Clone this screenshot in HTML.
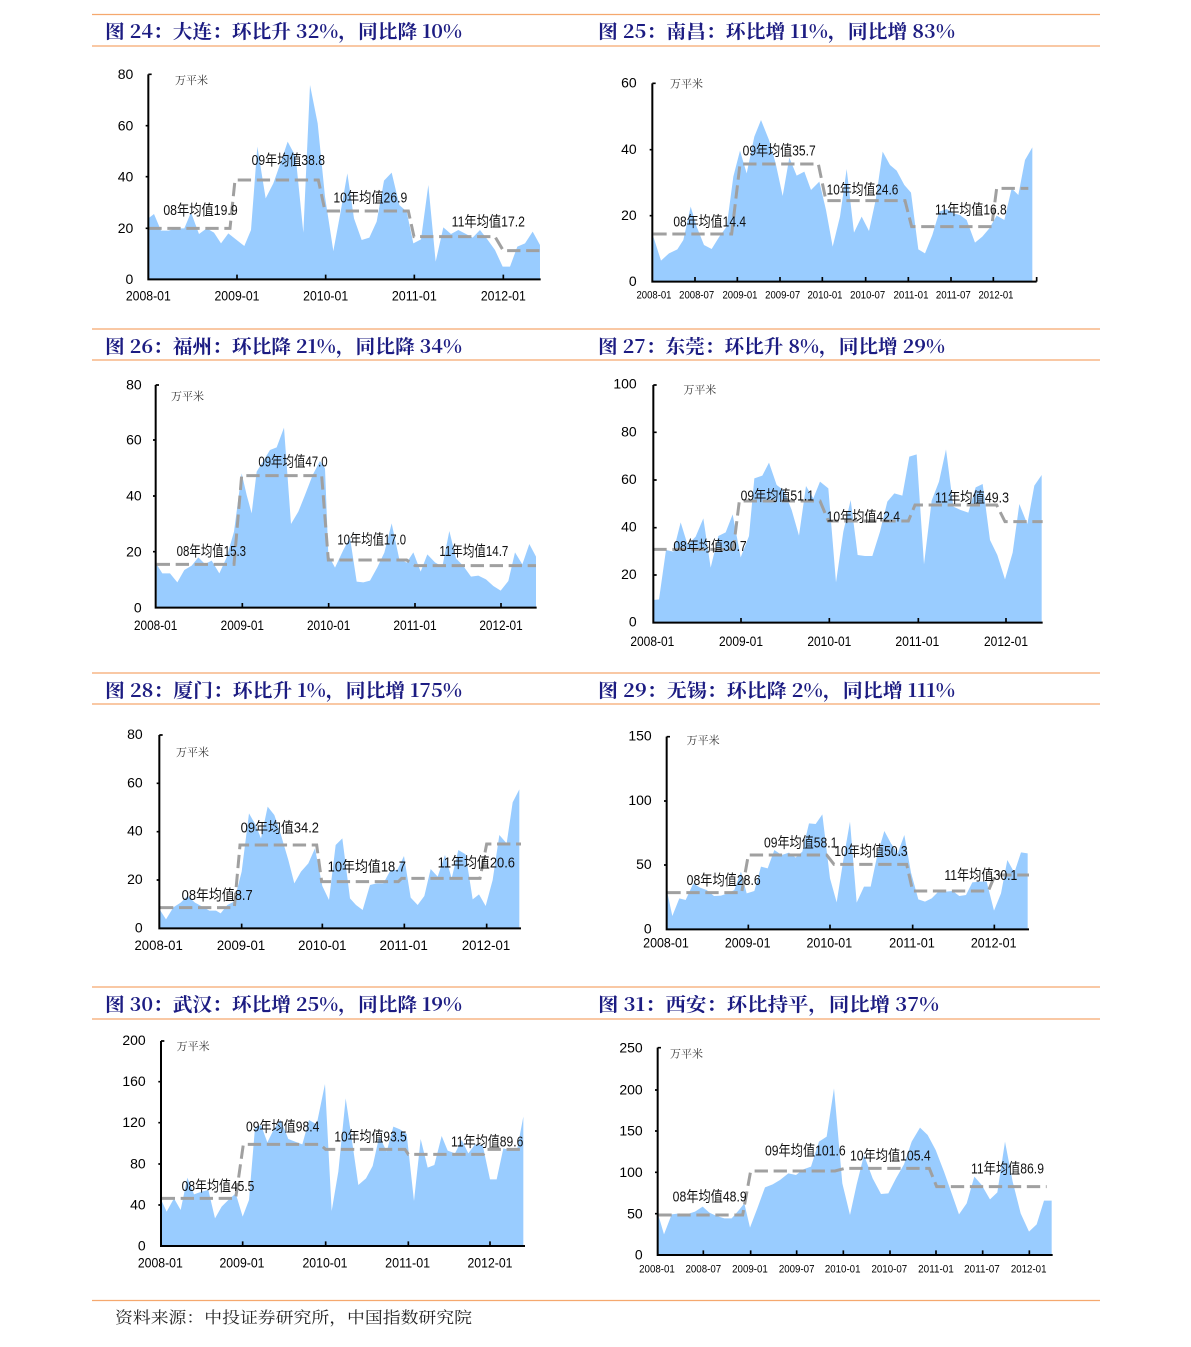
<!DOCTYPE html>
<html><head><meta charset="utf-8"><style>
html,body{margin:0;padding:0;background:#fff;}
svg{display:block}
.t{font-family:"Noto Serif CJK SC","Noto Sans CJK SC","Liberation Serif",serif;font-weight:bold;fill:#1c1c82;font-size:19px}
.l{font-family:"Liberation Sans","Noto Sans CJK SC",sans-serif;fill:#111;font-size:44px}
.k{font-family:"Liberation Sans",sans-serif;fill:#000;font-size:42px}
.ks{font-family:"Liberation Sans",sans-serif;fill:#000;font-size:34px}
.u{font-family:"Noto Serif CJK SC","Liberation Serif",serif;fill:#333;font-size:33px}
.a{fill:#99ccff;stroke:none}
.d{fill:none;stroke:#a0a0a0;stroke-width:9;stroke-dasharray:40 17}
.ax{fill:none;stroke:#000;stroke-width:6}
.tk{fill:none;stroke:#000;stroke-width:5}
</style></head><body>
<svg width="1191" height="1347" viewBox="0 0 1191 1347" xmlns="http://www.w3.org/2000/svg">
<rect width="1191" height="1347" fill="#fff"/>
<g stroke="#f5a86e" stroke-width="1.3">
<line x1="92" y1="14.5" x2="1100" y2="14.5"/><line x1="92" y1="46" x2="1100" y2="46"/>
<line x1="92" y1="329" x2="1100" y2="329"/><line x1="92" y1="360" x2="1100" y2="360"/>
<line x1="92" y1="673" x2="1100" y2="673"/><line x1="92" y1="704" x2="1100" y2="704"/>
<line x1="92" y1="987" x2="1100" y2="987"/><line x1="92" y1="1019" x2="1100" y2="1019"/>
<line x1="92" y1="1300.5" x2="1100" y2="1300.5"/>
</g>
<text class="t" x="105" y="38" textLength="357" lengthAdjust="spacingAndGlyphs">图 24：大连：环比升 32%，同比降 10%</text>
<text class="t" x="598" y="38" textLength="357" lengthAdjust="spacingAndGlyphs">图 25：南昌：环比增 11%，同比增 83%</text>
<text class="t" x="105" y="353" textLength="357" lengthAdjust="spacingAndGlyphs">图 26：福州：环比降 21%，同比降 34%</text>
<text class="t" x="598" y="353" textLength="347" lengthAdjust="spacingAndGlyphs">图 27：东莞：环比升 8%，同比增 29%</text>
<text class="t" x="105" y="697" textLength="357" lengthAdjust="spacingAndGlyphs">图 28：厦门：环比升 1%，同比增 175%</text>
<text class="t" x="598" y="697" textLength="357" lengthAdjust="spacingAndGlyphs">图 29：无锡：环比降 2%，同比增 111%</text>
<text class="t" x="105" y="1011" textLength="357" lengthAdjust="spacingAndGlyphs">图 30：武汉：环比增 25%，同比降 19%</text>
<text class="t" x="598" y="1011" textLength="341" lengthAdjust="spacingAndGlyphs">图 31：西安：环比持平，同比增 37%</text>
<text x="115" y="1323" textLength="357" lengthAdjust="spacingAndGlyphs" style="font-family:'Noto Serif CJK SC','Liberation Serif',serif;font-size:16px;fill:#222">资料来源：中投证券研究所，中国指数研究院</text>

<!-- Panel 1 Dalian -->
<g transform="translate(90,10) scale(0.333333)">
<polygon class="a" points="175,625 192,612 213,662 235,662 262,655 283,655 303,607 327,672 350,655 372,668 393,700 415,670 440,690 463,708 483,660 502,410 527,565 550,520 573,455 593,395 617,440 640,668 660,225 683,340 705,560 730,723 752,605 772,490 792,625 815,690 838,683 860,635 882,512 905,488 928,585 950,605 970,700 993,688 1015,525 1037,755 1060,652 1083,672 1105,660 1128,672 1148,683 1170,660 1192,688 1215,720 1238,770 1260,770 1282,710 1305,700 1328,665 1350,705 1350,808 175,808"/>
<polyline class="d" points="175,655 420,655 435,510 685,510 705,603 955,603 972,680 1215,680 1240,722 1350,722"/>
<path class="ax" d="M175,193 V808 H1352"/>
<path class="tk" d="M175,193h10M167,347h8M167,500h8M167,655h8M441,808v-14M707,808v-14M973,808v-14M1240,808v-14"/>
<g class="k" text-anchor="end"><text x="130" y="207">80</text><text x="130" y="361">60</text><text x="130" y="514">40</text><text x="130" y="669">20</text><text x="130" y="822">0</text></g>
<g class="k" text-anchor="middle"><text x="175" y="872" textLength="135" lengthAdjust="spacingAndGlyphs">2008-01</text><text x="441" y="872" textLength="135" lengthAdjust="spacingAndGlyphs">2009-01</text><text x="707" y="872" textLength="135" lengthAdjust="spacingAndGlyphs">2010-01</text><text x="973" y="872" textLength="135" lengthAdjust="spacingAndGlyphs">2011-01</text><text x="1240" y="872" textLength="135" lengthAdjust="spacingAndGlyphs">2012-01</text></g>
<text class="u" x="255" y="222">万平米</text>
<g class="l"><text x="220" y="615" textLength="223" lengthAdjust="spacingAndGlyphs">08年均值19.9</text><text x="485" y="465" textLength="220" lengthAdjust="spacingAndGlyphs">09年均值38.8</text><text x="730" y="577" textLength="222" lengthAdjust="spacingAndGlyphs">10年均值26.9</text><text x="1085" y="650" textLength="220" lengthAdjust="spacingAndGlyphs">11年均值17.2</text></g>
</g>

<!-- Panel 2 Nanchang -->
<g transform="translate(590,10) scale(0.333333)">
<polygon class="a" points="190,680 213,752 237,730 262,718 280,690 302,590 320,650 342,705 365,717 388,680 410,650 430,500 450,422 470,490 493,380 513,330 537,390 557,460 578,558 598,443 620,497 643,485 663,540 688,515 708,600 728,710 750,620 770,477 792,668 815,620 837,663 857,570 878,425 900,465 920,482 943,525 963,548 985,718 1005,730 1027,675 1048,605 1070,597 1090,610 1110,615 1130,630 1155,698 1177,680 1198,655 1220,617 1243,630 1265,535 1285,555 1305,450 1327,412 1327,815 190,815"/>
<polyline class="d" points="190,672 425,672 450,462 685,462 708,572 945,572 965,650 1205,650 1220,535 1315,535"/>
<path class="ax" d="M187,220 V815 H1340"/>
<path class="tk" d="M187,220h10M179,419h8M179,617h8M315,815v-14M442,815v-14M570,815v-14M697,815v-14M827,815v-14M955,815v-14M1083,815v-14M1210,815v-14M1340,815v-14"/>
<g class="k" text-anchor="end"><text x="140" y="233">60</text><text x="140" y="432">40</text><text x="140" y="630">20</text><text x="140" y="828">0</text></g>
<g class="ks" text-anchor="middle"><text x="192" y="865" textLength="105" lengthAdjust="spacingAndGlyphs">2008-01</text><text x="320" y="865" textLength="105" lengthAdjust="spacingAndGlyphs">2008-07</text><text x="450" y="865" textLength="105" lengthAdjust="spacingAndGlyphs">2009-01</text><text x="578" y="865" textLength="105" lengthAdjust="spacingAndGlyphs">2009-07</text><text x="705" y="865" textLength="105" lengthAdjust="spacingAndGlyphs">2010-01</text><text x="833" y="865" textLength="105" lengthAdjust="spacingAndGlyphs">2010-07</text><text x="963" y="865" textLength="105" lengthAdjust="spacingAndGlyphs">2011-01</text><text x="1090" y="865" textLength="105" lengthAdjust="spacingAndGlyphs">2011-07</text><text x="1218" y="865" textLength="105" lengthAdjust="spacingAndGlyphs">2012-01</text></g>
<text class="u" x="240" y="233">万平米</text>
<g class="l"><text x="250" y="650" textLength="218" lengthAdjust="spacingAndGlyphs">08年均值14.4</text><text x="458" y="437" textLength="219" lengthAdjust="spacingAndGlyphs">09年均值35.7</text><text x="710" y="553" textLength="215" lengthAdjust="spacingAndGlyphs">10年均值24.6</text><text x="1035" y="613" textLength="215" lengthAdjust="spacingAndGlyphs">11年均值16.8</text></g>
</g>

<!-- Panel 3 Fuzhou -->
<g transform="translate(90,325) scale(0.333333)">
<polygon class="a" points="200,718 217,745 240,745 262,772 283,735 305,722 325,697 345,717 365,707 388,745 410,697 432,620 455,445 470,510 485,565 500,440 520,408 540,375 560,367 582,308 603,597 625,560 645,510 668,450 690,408 705,430 715,690 735,728 760,675 780,638 800,770 820,772 840,767 862,727 883,683 905,595 928,703 950,713 970,682 992,740 1012,688 1035,712 1057,725 1078,618 1098,700 1120,723 1143,755 1165,752 1188,763 1210,783 1232,797 1255,768 1275,682 1297,718 1318,657 1338,695 1338,848 200,848"/>
<polyline class="d" points="200,718 432,718 455,452 695,452 715,705 950,705 975,722 1338,722"/>
<path class="ax" d="M197,180 V848 H1340"/>
<path class="tk" d="M197,180h10M189,345h8M189,513h8M189,680h8M457,848v-14M716,848v-14M975,848v-14M1233,848v-14"/>
<g class="k" text-anchor="end"><text x="155" y="194">80</text><text x="155" y="359">60</text><text x="155" y="527">40</text><text x="155" y="694">20</text><text x="155" y="862">0</text></g>
<g class="k" text-anchor="middle"><text x="197" y="915" textLength="130" lengthAdjust="spacingAndGlyphs">2008-01</text><text x="457" y="915" textLength="130" lengthAdjust="spacingAndGlyphs">2009-01</text><text x="716" y="915" textLength="130" lengthAdjust="spacingAndGlyphs">2010-01</text><text x="975" y="915" textLength="130" lengthAdjust="spacingAndGlyphs">2011-01</text><text x="1233" y="915" textLength="130" lengthAdjust="spacingAndGlyphs">2012-01</text></g>
<text class="u" x="243" y="225">万平米</text>
<g class="l"><text x="260" y="693" textLength="208" lengthAdjust="spacingAndGlyphs">08年均值15.3</text><text x="505" y="425" textLength="208" lengthAdjust="spacingAndGlyphs">09年均值47.0</text><text x="742" y="658" textLength="206" lengthAdjust="spacingAndGlyphs">10年均值17.0</text><text x="1048" y="693" textLength="207" lengthAdjust="spacingAndGlyphs">11年均值14.7</text></g>
</g>

<!-- Panel 4 Dongguan -->
<g transform="translate(590,325) scale(0.333333)">
<polygon class="a" points="190,825 207,823 228,675 250,680 272,592 293,660 317,635 340,580 362,728 385,633 407,622 428,568 452,697 477,633 493,460 517,452 537,413 560,480 582,497 605,555 627,632 648,483 670,520 690,470 715,490 738,772 760,620 782,525 803,690 825,693 847,693 870,620 892,530 913,505 937,512 958,395 980,388 1002,718 1025,527 1047,470 1068,373 1090,545 1112,555 1135,563 1157,487 1178,477 1200,645 1222,690 1245,763 1268,683 1288,537 1312,597 1333,482 1355,450 1355,893 190,893"/>
<polyline class="d" points="190,673 430,673 448,528 690,528 715,588 955,588 975,540 1220,540 1245,590 1358,590"/>
<path class="ax" d="M190,180 V893 H1358"/>
<path class="tk" d="M190,180h10M190,322h10M190,465h10M190,608h10M190,750h10M453,893v-14M718,893v-14M985,893v-14M1248,893v-14"/>
<g class="k" text-anchor="end"><text x="140" y="190">100</text><text x="140" y="334">80</text><text x="140" y="477">60</text><text x="140" y="620">40</text><text x="140" y="762">20</text><text x="140" y="905">0</text></g>
<g class="k" text-anchor="middle"><text x="187" y="963" textLength="132" lengthAdjust="spacingAndGlyphs">2008-01</text><text x="453" y="963" textLength="132" lengthAdjust="spacingAndGlyphs">2009-01</text><text x="718" y="963" textLength="132" lengthAdjust="spacingAndGlyphs">2010-01</text><text x="982" y="963" textLength="132" lengthAdjust="spacingAndGlyphs">2011-01</text><text x="1248" y="963" textLength="132" lengthAdjust="spacingAndGlyphs">2012-01</text></g>
<text class="u" x="280" y="205">万平米</text>
<g class="l"><text x="250" y="678" textLength="220" lengthAdjust="spacingAndGlyphs">08年均值30.7</text><text x="452" y="527" textLength="220" lengthAdjust="spacingAndGlyphs">09年均值51.1</text><text x="710" y="590" textLength="220" lengthAdjust="spacingAndGlyphs">10年均值42.4</text><text x="1035" y="533" textLength="222" lengthAdjust="spacingAndGlyphs">11年均值49.3</text></g>
</g>

<!-- Panel 5 Xiamen -->
<g transform="translate(90,670) scale(0.333333)">
<polygon class="a" points="210,720 228,748 250,712 272,698 293,678 315,698 337,710 358,722 378,722 392,730 412,705 432,695 455,605 477,430 497,465 513,505 533,410 553,435 573,495 595,570 613,640 633,605 655,580 675,535 697,648 717,690 737,525 757,505 780,685 798,705 818,720 840,645 860,640 880,640 902,600 922,600 942,558 962,683 983,705 1003,678 1022,597 1043,620 1065,555 1085,625 1105,540 1127,553 1148,688 1167,673 1187,708 1208,630 1228,495 1250,520 1268,397 1288,358 1288,775 210,775"/>
<polyline class="d" points="210,713 433,713 450,525 680,525 695,635 925,635 935,625 1170,625 1190,522 1293,522"/>
<path class="ax" d="M208,195 V775 H1293"/>
<path class="tk" d="M208,195h10M200,340h8M200,485h8M200,630h8M455,775v-14M697,775v-14M943,775v-14M1190,775v-14"/>
<g class="k" text-anchor="end"><text x="158" y="207">80</text><text x="158" y="352">60</text><text x="158" y="497">40</text><text x="158" y="642">20</text><text x="158" y="787">0</text></g>
<g class="k" text-anchor="middle"><text x="206" y="840" textLength="145" lengthAdjust="spacingAndGlyphs">2008-01</text><text x="453" y="840" textLength="145" lengthAdjust="spacingAndGlyphs">2009-01</text><text x="697" y="840" textLength="145" lengthAdjust="spacingAndGlyphs">2010-01</text><text x="941" y="840" textLength="145" lengthAdjust="spacingAndGlyphs">2011-01</text><text x="1188" y="840" textLength="145" lengthAdjust="spacingAndGlyphs">2012-01</text></g>
<text class="u" x="258" y="258">万平米</text>
<g class="l"><text x="275" y="690" textLength="213" lengthAdjust="spacingAndGlyphs">08年均值8.7</text><text x="452" y="488" textLength="235" lengthAdjust="spacingAndGlyphs">09年均值34.2</text><text x="713" y="605" textLength="235" lengthAdjust="spacingAndGlyphs">10年均值18.7</text><text x="1043" y="592" textLength="232" lengthAdjust="spacingAndGlyphs">11年均值20.6</text></g>
</g>

<!-- Panel 6 Wuxi -->
<g transform="translate(590,670) scale(0.333333)">
<polygon class="a" points="232,668 247,738 268,685 287,690 310,640 330,653 350,660 372,678 393,677 413,670 433,660 453,605 470,670 493,663 513,590 533,595 553,540 575,555 597,548 617,563 637,545 657,460 677,462 697,433 720,625 740,697 760,570 780,455 800,698 822,650 842,650 862,555 883,483 903,520 923,550 943,495 963,608 985,688 1005,695 1025,685 1047,663 1067,665 1088,663 1108,678 1128,675 1147,637 1168,635 1190,635 1212,722 1233,670 1252,570 1273,608 1293,547 1313,550 1313,778 232,778"/>
<polyline class="d" points="232,668 455,668 475,555 710,555 732,583 950,583 968,663 1195,663 1215,615 1317,615"/>
<path class="ax" d="M230,200 V778 H1317"/>
<path class="tk" d="M230,200h10M222,393h8M222,585h8M475,778v-14M720,778v-14M968,778v-14M1213,778v-14"/>
<g class="k" text-anchor="end"><text x="185" y="212">150</text><text x="185" y="405">100</text><text x="185" y="597">50</text><text x="185" y="790">0</text></g>
<g class="k" text-anchor="middle"><text x="228" y="833" textLength="137" lengthAdjust="spacingAndGlyphs">2008-01</text><text x="473" y="833" textLength="137" lengthAdjust="spacingAndGlyphs">2009-01</text><text x="718" y="833" textLength="137" lengthAdjust="spacingAndGlyphs">2010-01</text><text x="966" y="833" textLength="137" lengthAdjust="spacingAndGlyphs">2011-01</text><text x="1211" y="833" textLength="137" lengthAdjust="spacingAndGlyphs">2012-01</text></g>
<text class="u" x="290" y="222">万平米</text>
<g class="l"><text x="290" y="645" textLength="222" lengthAdjust="spacingAndGlyphs">08年均值28.6</text><text x="522" y="533" textLength="220" lengthAdjust="spacingAndGlyphs">09年均值58.1</text><text x="733" y="558" textLength="220" lengthAdjust="spacingAndGlyphs">10年均值50.3</text><text x="1063" y="630" textLength="219" lengthAdjust="spacingAndGlyphs">11年均值30.1</text></g>
</g>

<!-- Panel 7 Wuhan -->
<g transform="translate(90,985) scale(0.333333)">
<polygon class="a" points="215,648 230,680 252,640 272,675 292,578 312,628 335,620 355,615 375,700 395,665 415,645 437,625 458,695 477,645 495,428 513,420 532,472 553,430 572,405 595,462 615,470 637,478 657,405 680,418 705,297 725,678 745,560 767,340 785,460 805,600 828,580 848,543 868,453 890,500 910,425 930,433 950,447 972,648 992,462 1013,548 1033,540 1055,453 1073,497 1095,505 1115,465 1135,505 1155,478 1178,480 1200,583 1220,583 1240,490 1260,495 1282,490 1300,395 1300,783 215,783"/>
<polyline class="d" points="215,640 437,640 460,478 690,478 707,493 945,493 955,508 1180,508 1190,493 1300,493"/>
<path class="ax" d="M213,168 V783 H1305"/>
<path class="tk" d="M213,168h10M205,290h8M205,413h8M205,537h8M205,660h8M458,783v-14M707,783v-14M955,783v-14M1200,783v-14"/>
<g class="k" text-anchor="end"><text x="167" y="180">200</text><text x="167" y="303">160</text><text x="167" y="426">120</text><text x="167" y="550">80</text><text x="167" y="673">40</text><text x="167" y="796">0</text></g>
<g class="k" text-anchor="middle"><text x="211" y="848" textLength="135" lengthAdjust="spacingAndGlyphs">2008-01</text><text x="456" y="848" textLength="135" lengthAdjust="spacingAndGlyphs">2009-01</text><text x="705" y="848" textLength="135" lengthAdjust="spacingAndGlyphs">2010-01</text><text x="953" y="848" textLength="135" lengthAdjust="spacingAndGlyphs">2011-01</text><text x="1200" y="848" textLength="135" lengthAdjust="spacingAndGlyphs">2012-01</text></g>
<text class="u" x="260" y="195">万平米</text>
<g class="l"><text x="275" y="618" textLength="218" lengthAdjust="spacingAndGlyphs">08年均值45.5</text><text x="468" y="440" textLength="220" lengthAdjust="spacingAndGlyphs">09年均值98.4</text><text x="733" y="470" textLength="217" lengthAdjust="spacingAndGlyphs">10年均值93.5</text><text x="1083" y="485" textLength="217" lengthAdjust="spacingAndGlyphs">11年均值89.6</text></g>
</g>

<!-- Panel 8 Xi'an -->
<g transform="translate(590,985) scale(0.333333)">
<polygon class="a" points="205,690 222,748 245,688 268,685 290,688 315,680 338,665 358,683 380,693 403,700 425,700 447,675 463,655 480,728 502,670 525,607 548,598 570,585 595,565 618,570 640,553 663,545 687,470 710,455 732,310 757,595 780,690 800,598 822,510 848,580 873,627 895,625 918,580 942,538 965,470 990,428 1013,450 1037,495 1062,560 1085,625 1107,688 1130,655 1153,575 1175,600 1200,643 1222,622 1245,470 1268,590 1292,685 1317,740 1340,718 1362,647 1385,647 1385,810 205,810"/>
<polyline class="d" points="205,690 458,690 482,558 735,558 765,550 1018,550 1040,605 1370,605"/>
<path class="ax" d="M203,188 V810 H1388"/>
<path class="tk" d="M203,188h10M195,315h8M195,438h8M195,562h8M195,686h8M340,810v-14M482,810v-14M620,810v-14M760,810v-14M900,810v-14M1038,810v-14M1178,810v-14M1318,810v-14"/>
<g class="k" text-anchor="end"><text x="158" y="202">250</text><text x="158" y="329">200</text><text x="158" y="452">150</text><text x="158" y="576">100</text><text x="158" y="700">50</text><text x="158" y="824">0</text></g>
<g class="ks" text-anchor="middle"><text x="201" y="863" textLength="107" lengthAdjust="spacingAndGlyphs">2008-01</text><text x="340" y="863" textLength="107" lengthAdjust="spacingAndGlyphs">2008-07</text><text x="480" y="863" textLength="107" lengthAdjust="spacingAndGlyphs">2009-01</text><text x="620" y="863" textLength="107" lengthAdjust="spacingAndGlyphs">2009-07</text><text x="758" y="863" textLength="107" lengthAdjust="spacingAndGlyphs">2010-01</text><text x="898" y="863" textLength="107" lengthAdjust="spacingAndGlyphs">2010-07</text><text x="1038" y="863" textLength="107" lengthAdjust="spacingAndGlyphs">2011-01</text><text x="1176" y="863" textLength="107" lengthAdjust="spacingAndGlyphs">2011-07</text><text x="1316" y="863" textLength="107" lengthAdjust="spacingAndGlyphs">2012-01</text></g>
<text class="u" x="240" y="218">万平米</text>
<g class="l"><text x="248" y="650" textLength="222" lengthAdjust="spacingAndGlyphs">08年均值48.9</text><text x="525" y="512" textLength="242" lengthAdjust="spacingAndGlyphs">09年均值101.6</text><text x="780" y="527" textLength="242" lengthAdjust="spacingAndGlyphs">10年均值105.4</text><text x="1143" y="565" textLength="219" lengthAdjust="spacingAndGlyphs">11年均值86.9</text></g>
</g>
</svg>
</body></html>
